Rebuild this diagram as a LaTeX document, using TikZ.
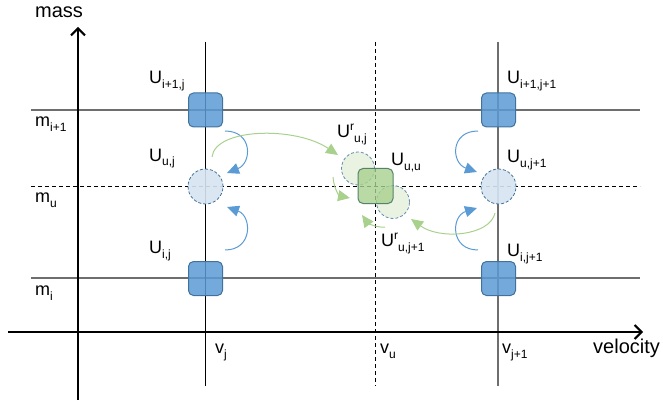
\documentclass[tikz,border=0pt]{standalone}
\usepackage{fontspec}
\setmainfont{Liberation Sans}
\usetikzlibrary{arrows.meta}
\definecolor{bfill}{RGB}{91,155,213}
\definecolor{bdraw}{RGB}{65,113,156}
\definecolor{gfill}{RGB}{169,209,142}
\definecolor{gdraw}{RGB}{84,130,110}
\definecolor{cfillb}{RGB}{214,228,242}
\definecolor{cfillg}{RGB}{230,241,221}
\definecolor{gridgray}{RGB}{110,110,110}
\definecolor{barrow}{RGB}{91,155,213}
\definecolor{garrow}{RGB}{169,209,142}
\newcommand{\lsb}[1]{\raisebox{-5pt}{\fontsize{12}{12}\selectfont #1}}
\newcommand{\lsp}[1]{\raisebox{7pt}{\fontsize{12}{12}\selectfont #1}}
\begin{document}
\begin{tikzpicture}[x=1pt,y=-1pt,
  lbl/.style={font=\fontsize{18}{20}\selectfont, anchor=base west, inner sep=0pt},
  biglbl/.style={font=\fontsize{20}{22}\selectfont, anchor=base west, inner sep=0pt},
  gridline/.style={draw=gridgray, line width=1.2pt},
  vline/.style={draw=black, line width=0.9pt},
  dline/.style={draw=black, line width=0.9pt, dash pattern=on 4pt off 3pt},
  axisline/.style={draw=black, line width=2pt, -{Straight Barb[length=7pt,width=14pt,line width=2pt]}},
  bsq/.style={draw=bdraw, fill=bfill, fill opacity=0.85, rounded corners=5pt, minimum size=34pt, inner sep=0pt, line width=1pt},
  gsq/.style={draw=gdraw, fill=gfill, fill opacity=0.8, rounded corners=5pt, minimum size=35pt, inner sep=0pt, line width=1pt},
  bcirc/.style={circle, draw=bdraw, fill=cfillb, fill opacity=0.9, dash pattern=on 3pt off 2pt, minimum size=35pt, inner sep=0pt, line width=0.8pt},
  gcirc/.style={circle, draw=bdraw!80, fill=cfillg, fill opacity=0.85, dash pattern=on 3pt off 2pt, minimum size=33pt, inner sep=0pt, line width=0.8pt},
  barr/.style={draw=barrow, line width=1pt, -{Triangle[length=12pt,width=11pt]}},
  garr/.style={draw=garrow, line width=1pt, -{Triangle[length=12pt,width=11pt]}}
]
\useasboundingbox (0,0) rectangle (663,406);
% grid lines
\draw[gridline] (31,110) -- (640,110);
\draw[gridline] (31,278) -- (640,278);
\draw[dline] (31,186) -- (640,186);
\draw[vline] (205,42) -- (205,386);
\draw[gridline] (498,42) -- (498,386);
\draw[dline] (375.5,42) -- (375.5,386);
% axes
\coordinate (xs) at (8,332);
\coordinate (xe) at (643,332);
\coordinate (ys) at (78,400);
\coordinate (ye) at (78,27);
\draw[axisline] (xs) -- (xe);
\draw[axisline] (ys) -- (ye);
% shapes
\node[bsq] (uij1) at (205.5,110) {};
\node[bsq] (uij) at (205.5,278.5) {};
\node[bsq] (uijj1) at (498.5,110) {};
\node[bsq] (uijj) at (498.5,278.5) {};
\node[bcirc] (cuj) at (205.5,186.5) {};
\node[bcirc] (cuj1) at (498.5,186.5) {};
\node[gcirc] (gr1) at (358,168.5) {};
\node[gcirc] (gr2) at (393,202) {};
\node[gsq] (guu) at (375.5,186) {};
% arrow end points
\coordinate (b1s) at (225,131);
\coordinate (b1e) at (227,173);
\coordinate (b2s) at (225,250);
\coordinate (b2e) at (227,207);
\coordinate (b3s) at (478,131);
\coordinate (b3e) at (477,172);
\coordinate (b4s) at (478,250);
\coordinate (b4e) at (477,208);
\coordinate (g1s) at (212,157);
\coordinate (g1e) at (338,155);
\coordinate (g2s) at (333,177);
\coordinate (g2e) at (350,198);
\coordinate (g3s) at (495,213);
\coordinate (g3e) at (411,219);
\coordinate (g4s) at (385,227);
\coordinate (g4e) at (362,215);
% blue arrows
\draw[barr] (b1s) .. controls (253,131) and (252,163) .. (b1e);
\draw[barr] (b2s) .. controls (253,250) and (252,216) .. (b2e);
\draw[barr] (b3s) .. controls (450,131) and (451,163) .. (b3e);
\draw[barr] (b4s) .. controls (450,250) and (451,216) .. (b4e);
% green arrows
\draw[garr] (g1s) .. controls (215,128) and (295,126) .. (g1e);
\draw[garr] (g2s) .. controls (334,190) and (340,196) .. (g2e);
\draw[garr] (g3s) .. controls (490,236) and (440,240) .. (g3e);
\draw[garr] (g4s) .. controls (375,228) and (367,222) .. (g4e);
% labels
\node[biglbl] (tmass) at (35,18) {mass};
\node[biglbl] (tvel) at (593,353) {velocity};
\node[lbl] (tmi1) at (35,127) {m\lsb{i+1}};
\node[lbl] (tmu) at (35,202) {m\lsb{u}};
\node[lbl] (tmi) at (35,295) {m\lsb{i}};
\node[lbl] (tvj) at (215,353) {v\lsb{j}};
\node[lbl] (tvu) at (380,353) {v\lsb{u}};
\node[lbl] (tvj1) at (502,353) {v\lsb{j+1}};
\node[lbl] (tUi1j) at (149,84) {U\lsb{i+1,j}};
\node[lbl] (tUuj) at (149,161) {U\lsb{u,j}};
\node[lbl] (tUij) at (149,253) {U\lsb{i,j}};
\node[lbl] (tUi1j1) at (507,84) {U\lsb{i+1,j+1}};
\node[lbl] (tUuj1) at (507,163) {U\lsb{u,j+1}};
\node[lbl] (tUij1) at (507,256) {U\lsb{i,j+1}};
\node[lbl] (tUruj) at (337,138) {U\lsp{r}\lsb{u,j}};
\node[lbl] (tUuu) at (391,166) {U\lsb{u,u}};
\node[lbl] (tUruj1) at (381,246) {U\lsp{r}\lsb{u,j+1}};
\end{tikzpicture}
\end{document}
